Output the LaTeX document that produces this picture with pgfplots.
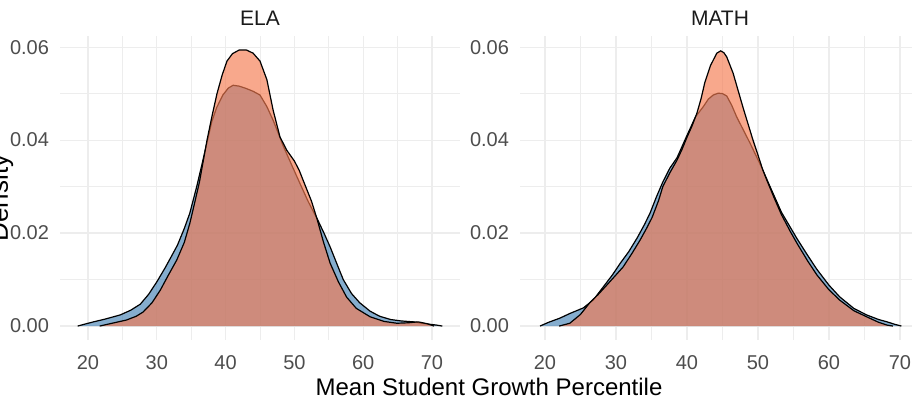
\documentclass[border=0pt]{standalone}
\usepackage{fontspec}
\setmainfont{Liberation Sans}
\usepackage{pgfplots}
\pgfplotsset{compat=1.18}
\usepackage{pgfplotstable}

\definecolor{bluefill}{RGB}{70,130,180}
\definecolor{orangefill}{RGB}{244,123,81}
\definecolor{gridc}{RGB}{237,237,237}
\definecolor{tickc}{RGB}{77,77,77}
\definecolor{stripc}{RGB}{26,26,26}

\pgfplotstableread{
x y
18.5 0
19.5 0.0004
20.8 0.0009
22.5 0.0015
24.7 0.0024
26.2 0.0034
27.6 0.0047
28.8 0.0068
30.0 0.0095
31.2 0.0125
32.2 0.0152
33.0 0.0174
34.0 0.0210
34.8 0.0243
35.8 0.0300
36.6 0.0350
37.3 0.0395
38.0 0.0440
38.7 0.0470
39.6 0.0497
40.4 0.0512
41.1 0.0518
42.0 0.0516
43.0 0.0511
44.0 0.0505
45.0 0.0497
46.0 0.0472
46.9 0.0443
47.6 0.0417
48.3 0.0390
49.5 0.0350
50.8 0.0307
52.0 0.0268
53.4 0.0228
54.3 0.0200
55.2 0.0170
56.2 0.0133
57.1 0.0100
58.3 0.0070
59.5 0.0050
61.0 0.0032
62.4 0.0021
64.0 0.0014
65.5 0.0011
67.3 0.0009
69.0 0.0005
70.7 0.0002
71.5 0
}\elablue

\pgfplotstableread{
x y
21.7 0
23.5 0.0006
25.6 0.0013
27.0 0.0021
28.0 0.0030
29.3 0.0050
30.5 0.0077
31.7 0.0110
32.9 0.0142
34.0 0.0180
34.8 0.0221
35.5 0.0265
36.2 0.0310
37.3 0.0400
38.0 0.0450
38.75 0.0500
39.5 0.0540
40.2 0.0570
41.0 0.0586
42.0 0.0594
43.0 0.0594
44.0 0.0587
45.0 0.0570
46.0 0.0530
46.9 0.0465
47.9 0.0407
48.9 0.0378
50.0 0.0355
50.7 0.0335
51.5 0.0305
52.5 0.0268
53.3 0.0230
54.2 0.0182
55.2 0.0135
56.4 0.0095
57.6 0.0062
59.0 0.0038
61.0 0.0020
63.0 0.0010
64.9 0.0006
66.5 0.0007
68.0 0.0009
69.3 0.0005
70.3 0
}\elaorange

\pgfplotstableread{
x y
19.3 0
20.5 0.0008
22.1 0.0017
23.5 0.0027
25.4 0.0039
26.8 0.0056
28.2 0.0084
29.5 0.0110
30.6 0.0135
31.8 0.0160
33.0 0.0190
34.0 0.0218
34.8 0.0243
35.7 0.0278
36.6 0.0310
37.6 0.0340
38.6 0.0362
40.0 0.0410
41.2 0.0450
42.3 0.0472
43.0 0.0488
43.7 0.0497
44.4 0.0501
45.0 0.0500
45.6 0.0495
46.3 0.0475
47.0 0.0450
48.0 0.0420
48.9 0.0393
50.5 0.0342
51.7 0.0300
53.3 0.0245
55.5 0.0188
57.0 0.0152
58.3 0.0122
60.0 0.0088
61.5 0.0063
63.5 0.0038
65.3 0.0024
67.0 0.0014
68.2 0.0009
69.2 0.0004
70.2 0
}\mathblue

\pgfplotstableread{
x y
22.0 0
23.5 0.0006
25.0 0.0025
26.3 0.0050
27.5 0.0068
28.7 0.0088
30.0 0.0110
31.0 0.0127
32.2 0.0155
33.4 0.0185
34.3 0.0210
35.1 0.0234
36.0 0.0270
36.6 0.0300
37.6 0.0330
38.6 0.0357
39.3 0.0380
40.0 0.0406
40.7 0.0430
41.4 0.0458
42.0 0.0490
42.5 0.0523
43.3 0.0560
44.2 0.0587
44.75 0.0592
45.2 0.0588
45.6 0.0579
46.5 0.0544
47.2 0.0507
47.9 0.0470
48.6 0.0435
49.3 0.0400
50.0 0.0368
50.7 0.0335
51.3 0.0312
52.3 0.0275
53.3 0.0240
54.5 0.0205
55.5 0.0178
57.0 0.0140
58.3 0.0110
60.0 0.0078
61.5 0.0056
63.5 0.0033
65.3 0.0020
67.0 0.0008
68.2 0.0002
69.0 0
}\mathorange

\pgfplotsset{
  panel/.style={
    scale only axis, height=152pt,
    ymin=-0.003, ymax=0.0624,
    axis line style={draw=none},
    major tick length=0pt, minor tick length=0pt,
    ytick={0,0.02,0.04,0.06},
    minor ytick={0.01,0.03,0.05},
    xtick={20,30,40,50,60,70},
    minor xtick={25,35,45,55,65},
    grid=both,
    major grid style={draw=gridc, line width=0.6pt},
    minor grid style={draw=gridc, line width=0.35pt},
    scaled y ticks=false,
    yticklabel style={/pgf/number format/fixed, /pgf/number format/fixed zerofill, /pgf/number format/precision=2, xshift=-2pt},
    xticklabel style={yshift=-4pt},
    ticklabel style={font=\fontsize{10}{12}\selectfont, text=tickc},
    /pgf/number format/assume math mode=true,
    every axis title shift=0pt,
    title style={font=\fontsize{10.5}{12}\selectfont, text=stripc, anchor=base, at={(0.5,1)}, yshift=5pt},
    anchor=south west,
  },
  dens/.style={draw=none, fill=#1, fill opacity=0.66},
  outl/.style={draw=black, line width=0.6pt, fill=none},
}

\begin{document}
\begin{tikzpicture}
\useasboundingbox (0,0) rectangle (456pt,200pt);
\begin{axis}[panel, at={(30pt,30pt)}, width=200pt, xmin=15.93, xmax=74.07, title={ELA}]
  \addplot[dens=bluefill] table {\elablue} \closedcycle;
  \addplot[outl] table {\elablue};
  \addplot[dens=orangefill] table {\elaorange} \closedcycle;
  \addplot[outl] table {\elaorange};
\end{axis}
\begin{axis}[panel, at={(260pt,30pt)}, width=196pt, xmin=16.48, xmax=71.7, title={MATH}, title style={xshift=2pt}]
  \addplot[dens=bluefill] table {\mathblue} \closedcycle;
  \addplot[outl] table {\mathblue};
  \addplot[dens=orangefill] table {\mathorange} \closedcycle;
  \addplot[outl] table {\mathorange};
\end{axis}
\node[anchor=base, font=\fontsize{12}{14}\selectfont] at (244.5pt,2pt) {Mean Student Growth Percentile};
\node[rotate=90, anchor=base, font=\fontsize{13}{15}\selectfont] at (4pt,101pt) {Density};
\end{tikzpicture}
\end{document}
